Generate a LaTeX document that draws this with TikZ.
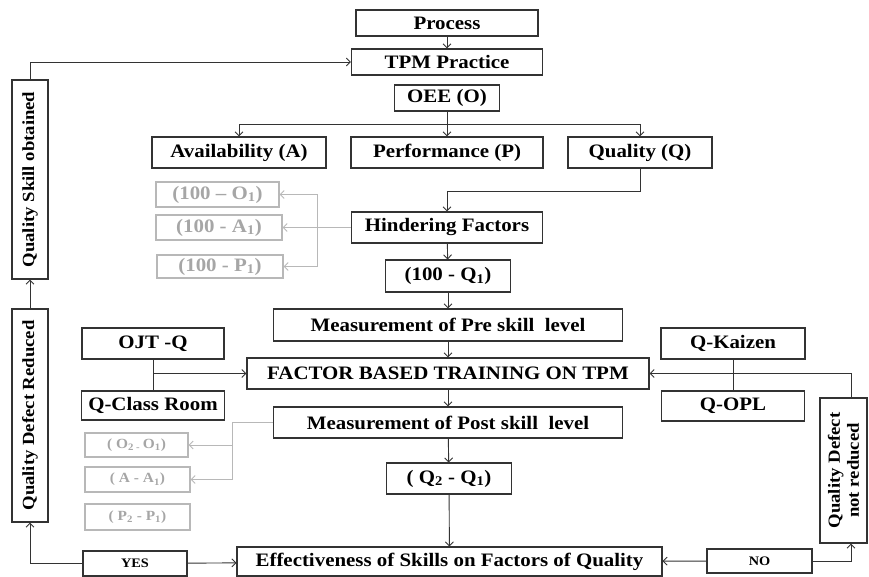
\documentclass[tikz,border=0pt]{standalone}
\usepackage{fontspec}
\setmainfont{Liberation Serif}[FakeStretch=1.1]
\usetikzlibrary{arrows.meta}

\begin{document}
\begin{tikzpicture}[x=1pt,y=-1pt,
		>={Straight Barb[length=4pt,width=8pt]},
		box/.style={draw=black!80, line width=1.1pt, inner sep=0pt, font=\fontsize{19}{22}\selectfont\bfseries},
		gbox/.style={draw=black!28, line width=1.1pt, inner sep=0pt, text=black!35, font=\fontsize{19}{22}\selectfont\bfseries},
		sgbox/.style={gbox, font=\fontsize{14}{16}\selectfont\bfseries},
		sbox/.style={box, font=\fontsize{13}{15}\selectfont\bfseries},
		vbox/.style={box, rotate=90, align=center, font=\fontsize{17}{19}\selectfont\bfseries},
		conn/.style={->, draw=black!80, line width=0.9pt},
		line/.style={draw=black!80, line width=0.9pt},
		gconn/.style={->, draw=black!28, line width=0.9pt}]
				\useasboundingbox (0,0) rectangle (869,577);
				% main column
				\node[box, minimum width=182, minimum height=26] (proc) at (447,23) {Process};
				\node[box, minimum width=191, minimum height=26] (tpm) at (447,62) {TPM Practice};
				\node[box, minimum width=105, minimum height=26] (oee) at (447,98) {OEE (O)};
				\node[box, minimum width=174, minimum height=31] (avail) at (239,152.5) {Availability (A)};
				\node[box, minimum width=192, minimum height=31] (perf) at (447,152.5) {Performance (P)};
				\node[box, minimum width=144, minimum height=31] (qual) at (640,152.5) {Quality (Q)};
				\node[box, minimum width=191, minimum height=31] (hind) at (447,227.5) {Hindering Factors};
				\node[box, minimum width=125, minimum height=32] (q1) at (448,276) {(100 - Q\textsubscript{1})};
				\node[box, minimum width=349, minimum height=32] (pre) at (448,325) {Measurement of Pre skill~ level};
				\node[box, minimum width=402, minimum height=31] (fbt) at (448,373.5) {FACTOR BASED TRAINING ON TPM};
				\node[box, minimum width=349, minimum height=31] (post) at (448,422.5) {Measurement of Post skill~ level};
				\node[box, minimum width=125, minimum height=31] (q21) at (449,478.5) {( Q\textsubscript{2} - Q\textsubscript{1})};
				\node[box, minimum width=425, minimum height=29] (eff) at (449.5,561.5) {Effectiveness of Skills on Factors of Quality};
				% training inputs
				\node[box, minimum width=142, minimum height=31] (ojt) at (153,343.5) {OJT -Q};
				\node[box, minimum width=143, minimum height=29] (qcr) at (153,405.5) {Q-Class Room};
				\node[box, minimum width=144, minimum height=31] (kai) at (733,343.5) {Q-Kaizen};
				\node[box, minimum width=143, minimum height=30] (opl) at (733,406) {Q-OPL};
				% feedback boxes
				\node[vbox, minimum width=199, minimum height=36] (qso) at (30,179.5) {Quality Skill obtained};
				\node[vbox, minimum width=213, minimum height=36] (qdr) at (30,415.5) {Quality Defect Reduced};
				\node[vbox, minimum width=145, minimum height=47] (qdn) at (843.5,470.5) {Quality Defect\\not reduced};
				\node[sbox, minimum width=104, minimum height=25] (yes) at (135,563.5) {YES};
				\node[sbox, minimum width=105, minimum height=24] (no) at (759.5,561) {NO};
				% grey factor boxes
				\node[gbox, minimum width=123, minimum height=25] (g1) at (217.5,194.5) {(100 – O\textsubscript{1})};
				\node[gbox, minimum width=126, minimum height=25] (g2) at (219,227.5) {(100 - A\textsubscript{1})};
				\node[gbox, minimum width=126, minimum height=23] (g3) at (220,266.5) {(100 - P\textsubscript{1})};
				\node[sgbox, minimum width=103, minimum height=24] (h1) at (136.5,445) {( O\textsubscript{2 - }O\textsubscript{1})};
				\node[sgbox, minimum width=105, minimum height=25] (h2) at (137.5,479.5) {( A - A\textsubscript{1})};
				\node[sgbox, minimum width=105, minimum height=26] (h3) at (137.5,517) {( P\textsubscript{2} - P\textsubscript{1})};
				\coordinate (split) at (447,124);
				\coordinate (qturn) at (447,191);
				\coordinate (gsplit) at (317,227.5);
				\coordinate (psplit) at (232,422.5);
				\coordinate (nturn) at (851,398);
				% connectors
				\draw[conn] (proc) -- (tpm);
				\draw[line] (oee) -- (split);
				\draw[conn] (split) -| (avail);\draw[conn] (split) -- (perf);\draw[conn] (split) -| (qual);
				\draw[conn] (qual.south) |- (qturn) -- (hind);
				\draw[conn] (hind) -- (q1);\draw[conn] (q1) -- (pre);\draw[conn] (pre) -- (fbt);
				\draw[conn] (fbt) -- (post);\draw[conn] (post) -- (q21);\draw[conn] (q21) -- (eff);
				\draw[line] (ojt) -- (qcr);\draw[conn] (ojt.south |- fbt.west) -- (fbt.west);
				\draw[line] (kai) -- (opl);\draw[conn] (nturn) |- (fbt.east);
				\draw[conn] (yes) -- (eff);\draw[conn] (yes.west) -| (qdr.west);
				\draw[conn] (qdr) -- (qso);\draw[conn] (qso.east) |- (tpm.west);
				\draw[conn] (no) -- (eff);\draw[conn] (no.east) -| (nturn |- qdn.west);
				\draw[gconn, -] (hind.west) -- (gsplit);
				\draw[gconn] (gsplit) |- (g1.east);\draw[gconn] (gsplit) -- (g2.east);\draw[gconn] (gsplit) |- (g3.east);
				\draw[gconn] (post.west) -- (psplit) |- (h2.east);\draw[gconn] (psplit |- h1.east) -- (h1.east);
			\end{tikzpicture}
\end{document}
